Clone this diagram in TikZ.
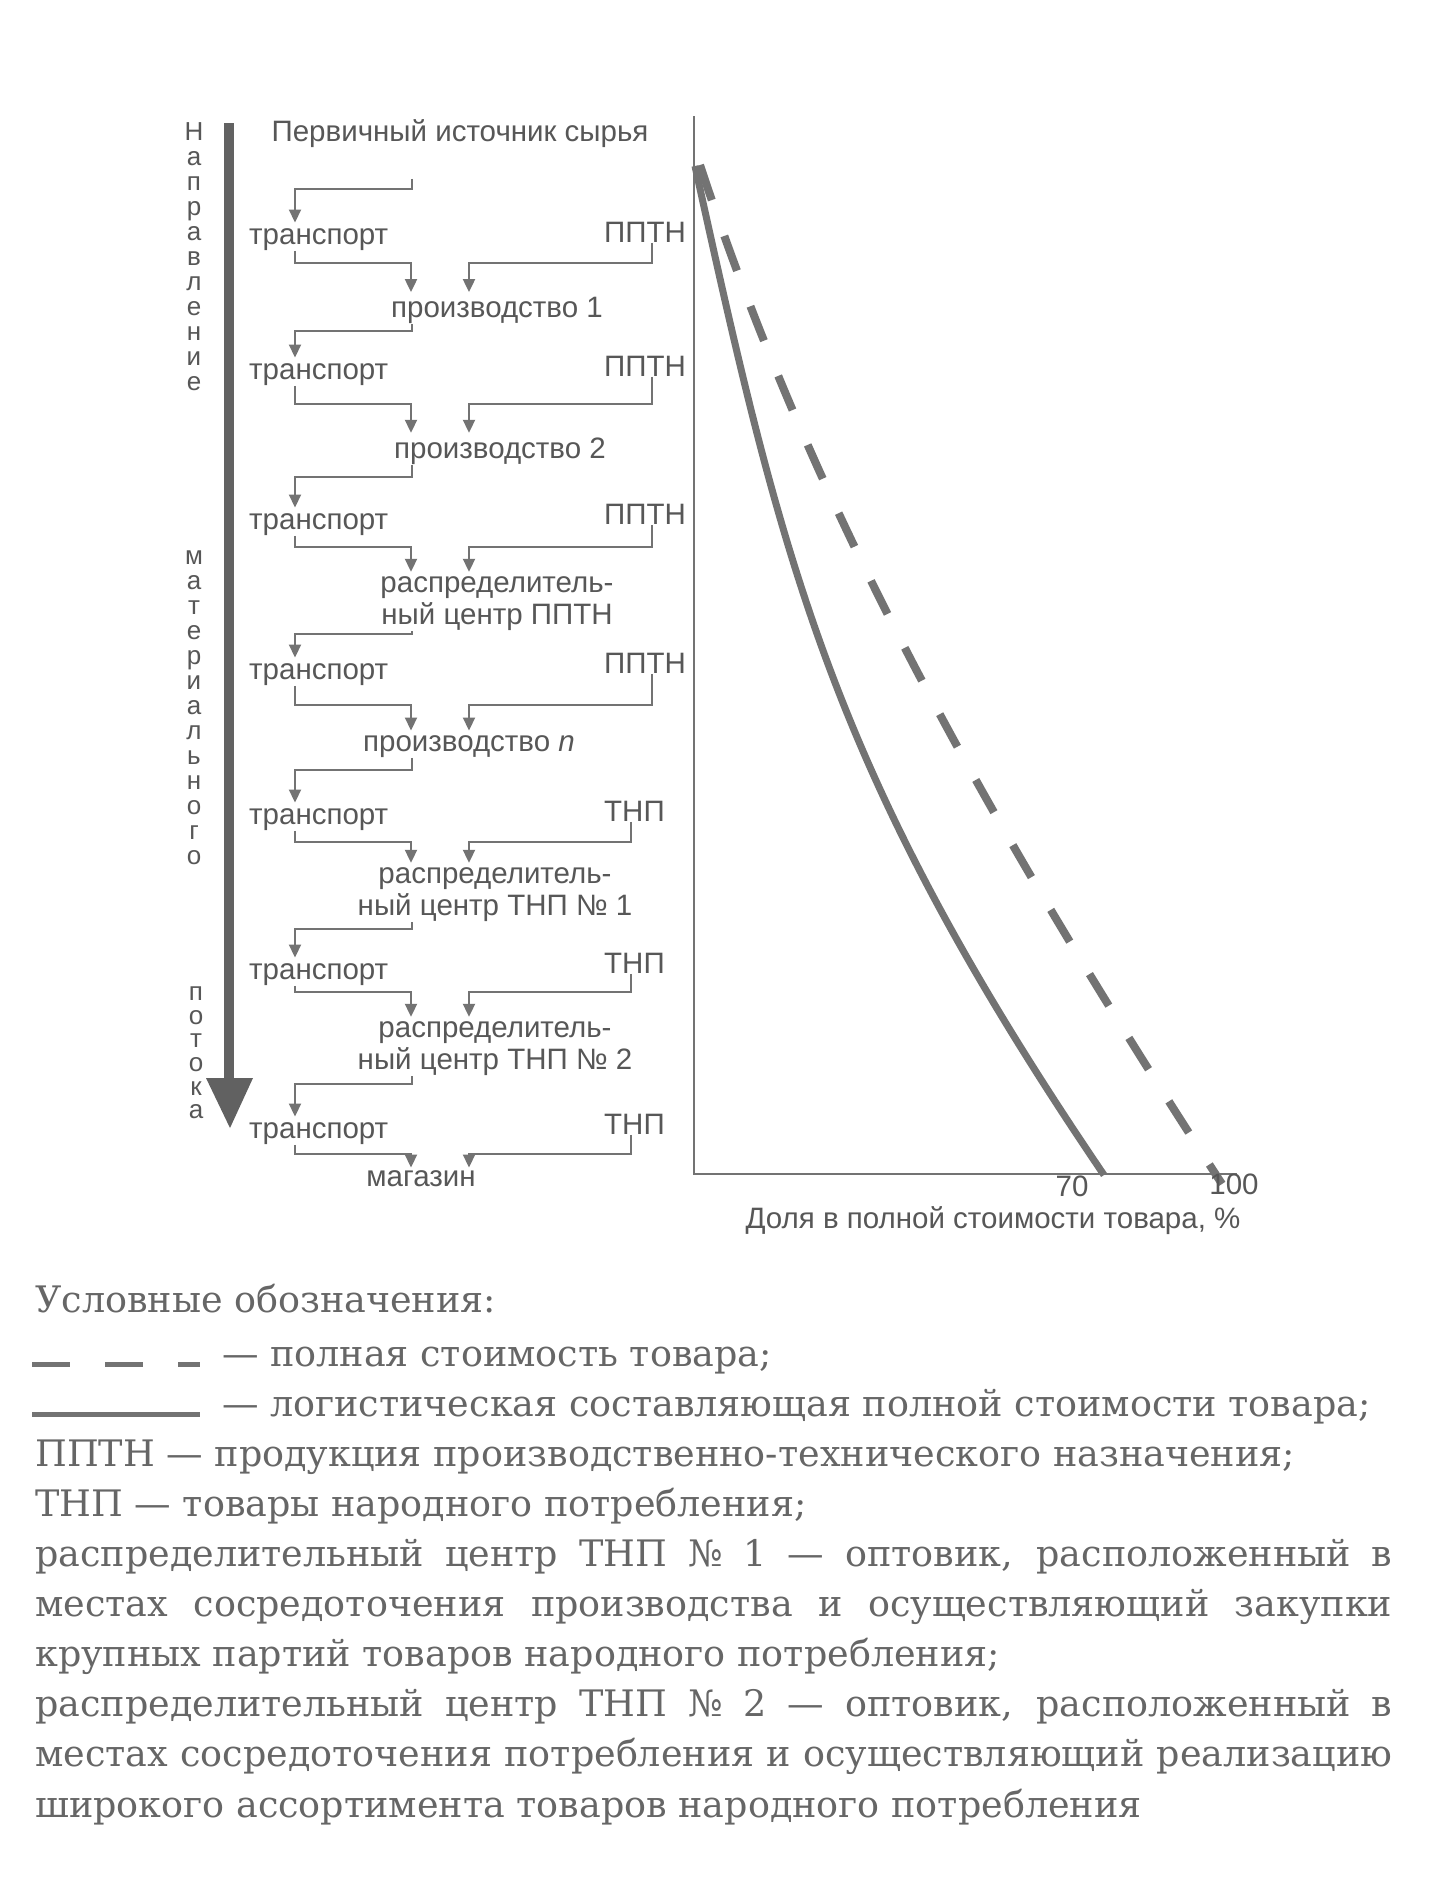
\documentclass[tikz,border=0pt]{standalone}
\usepackage{fontspec}
\setmainfont{DejaVu Serif}
\newfontfamily\flowf{Liberation Sans}
\usetikzlibrary{arrows.meta,calc}
\definecolor{txtg}{gray}{0.34}
\definecolor{lineg}{gray}{0.45}
\definecolor{legg}{gray}{0.40}
\begin{document}
\begin{tikzpicture}[x=1pt,y=-1pt,
  flow/.style={font=\fontsize{29.5}{32}\selectfont\flowf, text=txtg, inner sep=0pt, align=center},
  vlet/.style={font=\fontsize{26}{28}\selectfont\flowf, text=txtg, inner sep=0pt, anchor=mid},
  conn/.style={draw=lineg, line width=2pt},
  arr/.style={conn, -{Triangle[length=13pt,width=12pt]}},
  legtxt/.style={font=\fontsize{36.5}{40}\selectfont, text=legg, inner sep=0pt, anchor=mid west},
  curve/.style={draw=lineg, line cap=butt},
]
\useasboundingbox (0,0) rectangle (1432,1879);
\fill[white] (0,0) rectangle (1432,1879);

% x levels
\coordinate (xs) at (412,0);
\coordinate (xt) at (295,0);
\coordinate (xl) at (411,0);
\coordinate (xr) at (469,0);
\coordinate (xp) at (652,0);
\coordinate (xn) at (631,0);
% y levels
\coordinate (ha1) at (0,189);  \coordinate (hb1) at (0,263);
\coordinate (ha2) at (0,331);  \coordinate (hb2) at (0,404);
\coordinate (ha3) at (0,477);  \coordinate (hb3) at (0,547);
\coordinate (ha4) at (0,634);  \coordinate (hb4) at (0,705);
\coordinate (ha5) at (0,770);  \coordinate (hb5) at (0,842);
\coordinate (ha6) at (0,929);  \coordinate (hb6) at (0,992);
\coordinate (ha7) at (0,1084); \coordinate (hb7) at (0,1154);

% big flow arrow
\draw[draw=lineg!85!black, line width=10pt] (229,123) -- (229,1082);
\fill[lineg!85!black] (206,1078) -- (253,1078) -- (230,1128) -- cycle;

% vertical words
\foreach \c [count=\i] in {Н,а,п,р,а,в,л,е,н,и,е}
  \node[vlet] (va\i) at (194,{138+25*(\i-1)}) {\c};
\foreach \c [count=\i] in {м,а,т,е,р,и,а,л,ь,н,о,г,о}
  \node[vlet] (vb\i) at (194,{562+25*(\i-1)}) {\c};
\foreach \c [count=\i] in {п,о,т,о,к,а}
  \node[vlet] (vc\i) at (196,{998+23.6*(\i-1)}) {\c};

% flow nodes
\node[flow, anchor=mid] (n0) at (460,139) {Первичный источник сырья};
\node[flow, anchor=mid west] (t1) at (249,242) {транспорт};
\node[flow, anchor=mid west] (r1) at (604,240) {ППТН};
\node[flow, anchor=mid] (n1) at (497,315) {производство 1};
\node[flow, anchor=mid west] (t2) at (249,377) {транспорт};
\node[flow, anchor=mid west] (r2) at (604,374) {ППТН};
\node[flow, anchor=mid] (n2) at (500,456) {производство 2};
\node[flow, anchor=mid west] (t3) at (249,527) {транспорт};
\node[flow, anchor=mid west] (r3) at (604,522) {ППТН};
\node[flow, anchor=center] (n3) at (497,604) {распределитель-\\ный центр ППТН};
\node[flow, anchor=mid west] (t4) at (249,677) {транспорт};
\node[flow, anchor=mid west] (r4) at (604,671) {ППТН};
\node[flow, anchor=mid] (n4) at (469,749) {производство {\itshape n}};
\node[flow, anchor=mid west] (t5) at (249,822) {транспорт};
\node[flow, anchor=mid west] (r5) at (604,819) {ТНП};
\node[flow, anchor=center] (n5) at (495,895) {распределитель-\\ный центр ТНП № 1};
\node[flow, anchor=mid west] (t6) at (249,977) {транспорт};
\node[flow, anchor=mid west] (r6) at (604,971) {ТНП};
\node[flow, anchor=center] (n6) at (495,1049) {распределитель-\\ный центр ТНП № 2};
\node[flow, anchor=mid west] (t7) at (249,1136) {транспорт};
\node[flow, anchor=mid west] (r7) at (604,1132) {ТНП};
\node[flow, anchor=mid] (n7) at (421,1184) {магазин};

% connectors
\draw[arr] ($(n0.south -| xs)+(0,31)$) -- (xs |- ha1) -| ($(t1.north -| xt)+(0,-6)$);
\draw[arr] (t1.south -| xt) -- (xt |- hb1) -| ($(n1.north -| xl)+(0,-5)$);
\draw[arr] (r1.south -| xp) -- (xp |- hb1) -| ($(n1.north -| xr)+(0,-5)$);

\draw[arr] (n1.south -| xs) -- (xs |- ha2) -| ($(t2.north -| xt)+(0,-6)$);
\draw[arr] (t2.south -| xt) -- (xt |- hb2) -| ($(n2.north -| xl)+(0,-5)$);
\draw[arr] (r2.south -| xp) -- (xp |- hb2) -| ($(n2.north -| xr)+(0,-5)$);

\draw[arr] (n2.south -| xs) -- (xs |- ha3) -| ($(t3.north -| xt)+(0,-6)$);
\draw[arr] (t3.south -| xt) -- (xt |- hb3) -| ($(n3.north -| xl)+(0,-5)$);
\draw[arr] (r3.south -| xp) -- (xp |- hb3) -| ($(n3.north -| xr)+(0,-5)$);

\draw[arr] (n3.south -| xs) -- (xs |- ha4) -| ($(t4.north -| xt)+(0,-6)$);
\draw[arr] (t4.south -| xt) -- (xt |- hb4) -| ($(n4.north -| xl)+(0,-5)$);
\draw[arr] (r4.south -| xp) -- (xp |- hb4) -| ($(n4.north -| xr)+(0,-5)$);

\draw[arr] (n4.south -| xs) -- (xs |- ha5) -| ($(t5.north -| xt)+(0,-6)$);
\draw[arr] (t5.south -| xt) -- (xt |- hb5) -| ($(n5.north -| xl)+(0,-5)$);
\draw[arr] (r5.south -| xn) -- (xn |- hb5) -| ($(n5.north -| xr)+(0,-5)$);

\draw[arr] (n5.south -| xs) -- (xs |- ha6) -| ($(t6.north -| xt)+(0,-6)$);
\draw[arr] (t6.south -| xt) -- (xt |- hb6) -| ($(n6.north -| xl)+(0,-5)$);
\draw[arr] (r6.south -| xn) -- (xn |- hb6) -| ($(n6.north -| xr)+(0,-5)$);

\draw[arr] (n6.south -| xs) -- (xs |- ha7) -| ($(t7.north -| xt)+(0,-6)$);
\draw[arr] (t7.south -| xt) -- (xt |- hb7) -| ($(n7.north -| xl)+(0,-3)$);
\draw[arr] (r7.south -| xn) -- (xn |- hb7) -| ($(n7.north -| xr)+(0,-3)$);

% chart axes
\draw[conn] (694,116) -- (694,1174) -- (1237,1174);
% full cost (dashed)
\draw[curve, line width=8pt, dash pattern=on 37pt off 38pt]
  (700,165) .. controls (815,515) and (992,830) .. (1222,1184);
% logistic component (solid)
\draw[curve, line width=7pt]
  (695,166) .. controls (783,566) and (831,773) .. (1104,1175);

\node[flow, anchor=mid] (l70) at (1072,1194) {70};
\node[flow, anchor=mid] (l100) at (1234,1192) {100};
\node[flow, anchor=mid] (lax) at (993,1226) {Доля в полной стоимости товара, \%};

% legend
\node[legtxt] (g1) at (35,1310) {Условные обозначения:};
\draw[lineg, line width=5pt, dash pattern=on 38pt off 35pt] (32,1364) -- (200,1364);
\node[legtxt] (g2) at (222,1364) {— полная стоимость товара;};
\draw[lineg, line width=5pt] (32,1414) -- (200,1414);
\node[legtxt] (g3) at (222,1414) {— логистическая составляющая полной стоимости товара;};
\node[legtxt] (g4) at (35,1464) {ППТН — продукция производственно-технического назначения;};
\node[legtxt] (g5) at (35,1514) {ТНП — товары народного потребления;};
\node[legtxt] (g6) at (35,1564) {\makebox[1357pt][s]{распределительный центр ТНП № 1 — оптовик, расположенный в}};
\node[legtxt] (g7) at (35,1614) {\makebox[1357pt][s]{местах сосредоточения производства и осуществляющий закупки}};
\node[legtxt] (g8) at (35,1664) {крупных партий товаров народного потребления;};
\node[legtxt] (g9) at (35,1714) {\makebox[1357pt][s]{распределительный центр ТНП № 2 — оптовик, расположенный в}};
\node[legtxt] (g10) at (35,1764) {\makebox[1357pt][s]{местах сосредоточения потребления и осуществляющий реализацию}};
\node[legtxt] (g11) at (35,1815) {широкого ассортимента товаров народного потребления};
\end{tikzpicture}
\end{document}
